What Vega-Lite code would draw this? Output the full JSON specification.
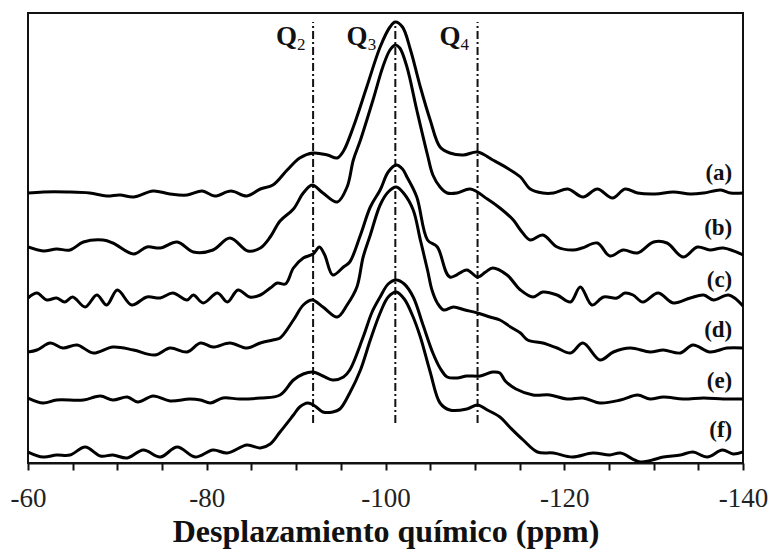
{
  "$schema": "https://vega.github.io/schema/vega-lite/v6.json",
  "width": 715,
  "height": 450,
  "autosize": "none",
  "padding": {"left": 28, "top": 13, "right": 28, "bottom": 89},
  "background": "white",
  "config": {
    "view": {"stroke": "#111", "strokeWidth": 2},
    "font": "Liberation Serif"
  },
  "datasets": {
    "spectra": [
      {"s": "a", "ppm": -60.0, "i": 270}, {"s": "a", "ppm": -61.7, "i": 271}, {"s": "a", "ppm": -64.4, "i": 271}, {"s": "a", "ppm": -66.9, "i": 270},
      {"s": "a", "ppm": -68.8, "i": 267}, {"s": "a", "ppm": -70.3, "i": 268}, {"s": "a", "ppm": -71.8, "i": 266}, {"s": "a", "ppm": -74.0, "i": 272},
      {"s": "a", "ppm": -75.9, "i": 269}, {"s": "a", "ppm": -77.8, "i": 268}, {"s": "a", "ppm": -79.5, "i": 272}, {"s": "a", "ppm": -80.9, "i": 267},
      {"s": "a", "ppm": -82.7, "i": 272}, {"s": "a", "ppm": -84.5, "i": 267}, {"s": "a", "ppm": -86.0, "i": 274}, {"s": "a", "ppm": -87.4, "i": 278},
      {"s": "a", "ppm": -89.0, "i": 293}, {"s": "a", "ppm": -90.4, "i": 305}, {"s": "a", "ppm": -91.9, "i": 310}, {"s": "a", "ppm": -93.5, "i": 308},
      {"s": "a", "ppm": -94.6, "i": 305}, {"s": "a", "ppm": -95.3, "i": 312}, {"s": "a", "ppm": -96.4, "i": 336}, {"s": "a", "ppm": -97.9, "i": 376},
      {"s": "a", "ppm": -99.4, "i": 416}, {"s": "a", "ppm": -100.5, "i": 436}, {"s": "a", "ppm": -101.1, "i": 441}, {"s": "a", "ppm": -101.9, "i": 436},
      {"s": "a", "ppm": -102.8, "i": 413}, {"s": "a", "ppm": -103.9, "i": 376}, {"s": "a", "ppm": -105.0, "i": 343}, {"s": "a", "ppm": -106.1, "i": 316},
      {"s": "a", "ppm": -107.2, "i": 310}, {"s": "a", "ppm": -108.7, "i": 308}, {"s": "a", "ppm": -110.3, "i": 311}, {"s": "a", "ppm": -112.0, "i": 303},
      {"s": "a", "ppm": -113.6, "i": 295}, {"s": "a", "ppm": -115.1, "i": 286}, {"s": "a", "ppm": -116.2, "i": 274}, {"s": "a", "ppm": -117.6, "i": 270},
      {"s": "a", "ppm": -118.8, "i": 270}, {"s": "a", "ppm": -120.4, "i": 274}, {"s": "a", "ppm": -122.1, "i": 266}, {"s": "a", "ppm": -123.7, "i": 274},
      {"s": "a", "ppm": -125.4, "i": 265}, {"s": "a", "ppm": -126.8, "i": 274}, {"s": "a", "ppm": -128.2, "i": 270}, {"s": "a", "ppm": -130.2, "i": 269},
      {"s": "a", "ppm": -132.2, "i": 271}, {"s": "a", "ppm": -134.1, "i": 269}, {"s": "a", "ppm": -135.6, "i": 270}, {"s": "a", "ppm": -137.5, "i": 273},
      {"s": "a", "ppm": -138.6, "i": 270}, {"s": "a", "ppm": -140.0, "i": 270},

      {"s": "b", "ppm": -60.0, "i": 216}, {"s": "b", "ppm": -61.7, "i": 212}, {"s": "b", "ppm": -63.2, "i": 214}, {"s": "b", "ppm": -64.7, "i": 213},
      {"s": "b", "ppm": -66.2, "i": 221}, {"s": "b", "ppm": -68.4, "i": 223}, {"s": "b", "ppm": -69.5, "i": 220}, {"s": "b", "ppm": -71.8, "i": 209},
      {"s": "b", "ppm": -73.3, "i": 216}, {"s": "b", "ppm": -74.8, "i": 215}, {"s": "b", "ppm": -76.7, "i": 221}, {"s": "b", "ppm": -78.5, "i": 211},
      {"s": "b", "ppm": -80.7, "i": 213}, {"s": "b", "ppm": -82.6, "i": 225}, {"s": "b", "ppm": -84.6, "i": 212}, {"s": "b", "ppm": -86.0, "i": 215},
      {"s": "b", "ppm": -87.1, "i": 226}, {"s": "b", "ppm": -88.2, "i": 242}, {"s": "b", "ppm": -89.7, "i": 254}, {"s": "b", "ppm": -90.8, "i": 270},
      {"s": "b", "ppm": -91.8, "i": 278}, {"s": "b", "ppm": -93.0, "i": 270}, {"s": "b", "ppm": -94.6, "i": 261}, {"s": "b", "ppm": -95.7, "i": 276},
      {"s": "b", "ppm": -96.4, "i": 303}, {"s": "b", "ppm": -97.2, "i": 323}, {"s": "b", "ppm": -98.6, "i": 363}, {"s": "b", "ppm": -99.7, "i": 396},
      {"s": "b", "ppm": -100.5, "i": 413}, {"s": "b", "ppm": -101.1, "i": 418}, {"s": "b", "ppm": -101.6, "i": 415}, {"s": "b", "ppm": -102.4, "i": 396},
      {"s": "b", "ppm": -103.5, "i": 353}, {"s": "b", "ppm": -104.7, "i": 308}, {"s": "b", "ppm": -105.3, "i": 288}, {"s": "b", "ppm": -106.1, "i": 276},
      {"s": "b", "ppm": -106.9, "i": 270}, {"s": "b", "ppm": -108.0, "i": 270}, {"s": "b", "ppm": -109.5, "i": 274}, {"s": "b", "ppm": -111.4, "i": 264},
      {"s": "b", "ppm": -112.8, "i": 255}, {"s": "b", "ppm": -114.3, "i": 243}, {"s": "b", "ppm": -115.1, "i": 233}, {"s": "b", "ppm": -116.2, "i": 223},
      {"s": "b", "ppm": -117.6, "i": 228}, {"s": "b", "ppm": -119.2, "i": 216}, {"s": "b", "ppm": -121.0, "i": 213}, {"s": "b", "ppm": -122.0, "i": 215},
      {"s": "b", "ppm": -123.7, "i": 220}, {"s": "b", "ppm": -125.1, "i": 207}, {"s": "b", "ppm": -126.6, "i": 213}, {"s": "b", "ppm": -128.2, "i": 210},
      {"s": "b", "ppm": -130.0, "i": 221}, {"s": "b", "ppm": -131.5, "i": 220}, {"s": "b", "ppm": -133.3, "i": 206}, {"s": "b", "ppm": -134.9, "i": 216},
      {"s": "b", "ppm": -136.3, "i": 213}, {"s": "b", "ppm": -137.8, "i": 215}, {"s": "b", "ppm": -140.0, "i": 208},

      {"s": "c", "ppm": -60.0, "i": 165}, {"s": "c", "ppm": -61.0, "i": 170}, {"s": "c", "ppm": -62.1, "i": 163}, {"s": "c", "ppm": -63.2, "i": 165},
      {"s": "c", "ppm": -64.1, "i": 161}, {"s": "c", "ppm": -65.0, "i": 166}, {"s": "c", "ppm": -66.4, "i": 156}, {"s": "c", "ppm": -67.7, "i": 168},
      {"s": "c", "ppm": -68.8, "i": 158}, {"s": "c", "ppm": -70.0, "i": 173}, {"s": "c", "ppm": -71.6, "i": 158}, {"s": "c", "ppm": -73.3, "i": 166},
      {"s": "c", "ppm": -74.8, "i": 165}, {"s": "c", "ppm": -76.2, "i": 170}, {"s": "c", "ppm": -77.8, "i": 163}, {"s": "c", "ppm": -78.5, "i": 168},
      {"s": "c", "ppm": -79.6, "i": 160}, {"s": "c", "ppm": -81.2, "i": 170}, {"s": "c", "ppm": -82.3, "i": 161}, {"s": "c", "ppm": -83.5, "i": 173},
      {"s": "c", "ppm": -84.8, "i": 166}, {"s": "c", "ppm": -86.0, "i": 168}, {"s": "c", "ppm": -87.1, "i": 175}, {"s": "c", "ppm": -87.9, "i": 180},
      {"s": "c", "ppm": -88.8, "i": 179}, {"s": "c", "ppm": -89.7, "i": 195}, {"s": "c", "ppm": -90.8, "i": 205}, {"s": "c", "ppm": -91.9, "i": 209},
      {"s": "c", "ppm": -92.6, "i": 216}, {"s": "c", "ppm": -93.2, "i": 208}, {"s": "c", "ppm": -94.1, "i": 188}, {"s": "c", "ppm": -95.3, "i": 196},
      {"s": "c", "ppm": -96.0, "i": 201}, {"s": "c", "ppm": -97.2, "i": 228}, {"s": "c", "ppm": -98.3, "i": 256}, {"s": "c", "ppm": -99.4, "i": 273},
      {"s": "c", "ppm": -100.3, "i": 291}, {"s": "c", "ppm": -101.2, "i": 298}, {"s": "c", "ppm": -101.9, "i": 294}, {"s": "c", "ppm": -102.4, "i": 286},
      {"s": "c", "ppm": -103.5, "i": 266}, {"s": "c", "ppm": -104.7, "i": 223}, {"s": "c", "ppm": -105.8, "i": 216}, {"s": "c", "ppm": -107.2, "i": 186},
      {"s": "c", "ppm": -109.1, "i": 193}, {"s": "c", "ppm": -110.3, "i": 186}, {"s": "c", "ppm": -111.2, "i": 191}, {"s": "c", "ppm": -112.0, "i": 195},
      {"s": "c", "ppm": -113.6, "i": 188}, {"s": "c", "ppm": -115.1, "i": 173}, {"s": "c", "ppm": -116.5, "i": 166}, {"s": "c", "ppm": -117.6, "i": 171},
      {"s": "c", "ppm": -119.2, "i": 168}, {"s": "c", "ppm": -120.7, "i": 161}, {"s": "c", "ppm": -121.8, "i": 176}, {"s": "c", "ppm": -123.1, "i": 158},
      {"s": "c", "ppm": -124.4, "i": 166}, {"s": "c", "ppm": -125.9, "i": 165}, {"s": "c", "ppm": -126.8, "i": 170}, {"s": "c", "ppm": -127.7, "i": 168},
      {"s": "c", "ppm": -128.8, "i": 161}, {"s": "c", "ppm": -130.5, "i": 170}, {"s": "c", "ppm": -132.2, "i": 160}, {"s": "c", "ppm": -134.1, "i": 165},
      {"s": "c", "ppm": -135.6, "i": 168}, {"s": "c", "ppm": -136.7, "i": 163}, {"s": "c", "ppm": -138.4, "i": 168}, {"s": "c", "ppm": -140.0, "i": 157},

      {"s": "d", "ppm": -60.0, "i": 111}, {"s": "d", "ppm": -61.0, "i": 113}, {"s": "d", "ppm": -62.5, "i": 120}, {"s": "d", "ppm": -63.9, "i": 115},
      {"s": "d", "ppm": -65.5, "i": 118}, {"s": "d", "ppm": -67.3, "i": 110}, {"s": "d", "ppm": -69.5, "i": 116}, {"s": "d", "ppm": -71.8, "i": 113},
      {"s": "d", "ppm": -74.2, "i": 108}, {"s": "d", "ppm": -75.9, "i": 115}, {"s": "d", "ppm": -77.8, "i": 111}, {"s": "d", "ppm": -79.3, "i": 120},
      {"s": "d", "ppm": -80.7, "i": 116}, {"s": "d", "ppm": -82.6, "i": 120}, {"s": "d", "ppm": -84.5, "i": 115}, {"s": "d", "ppm": -86.0, "i": 120},
      {"s": "d", "ppm": -87.4, "i": 123}, {"s": "d", "ppm": -88.2, "i": 125}, {"s": "d", "ppm": -89.7, "i": 143}, {"s": "d", "ppm": -90.8, "i": 158},
      {"s": "d", "ppm": -91.8, "i": 163}, {"s": "d", "ppm": -93.0, "i": 156}, {"s": "d", "ppm": -94.6, "i": 146}, {"s": "d", "ppm": -95.7, "i": 158},
      {"s": "d", "ppm": -96.8, "i": 176}, {"s": "d", "ppm": -97.5, "i": 206}, {"s": "d", "ppm": -98.3, "i": 228}, {"s": "d", "ppm": -99.4, "i": 258},
      {"s": "d", "ppm": -100.3, "i": 271}, {"s": "d", "ppm": -101.2, "i": 276}, {"s": "d", "ppm": -102.1, "i": 269}, {"s": "d", "ppm": -103.1, "i": 253},
      {"s": "d", "ppm": -103.9, "i": 223}, {"s": "d", "ppm": -104.7, "i": 193}, {"s": "d", "ppm": -105.2, "i": 173}, {"s": "d", "ppm": -105.8, "i": 160},
      {"s": "d", "ppm": -106.5, "i": 153}, {"s": "d", "ppm": -107.6, "i": 156}, {"s": "d", "ppm": -108.9, "i": 153}, {"s": "d", "ppm": -110.3, "i": 150},
      {"s": "d", "ppm": -111.7, "i": 146}, {"s": "d", "ppm": -112.8, "i": 143}, {"s": "d", "ppm": -114.0, "i": 136}, {"s": "d", "ppm": -115.1, "i": 130},
      {"s": "d", "ppm": -115.9, "i": 123}, {"s": "d", "ppm": -117.6, "i": 120}, {"s": "d", "ppm": -119.2, "i": 115}, {"s": "d", "ppm": -120.7, "i": 110},
      {"s": "d", "ppm": -122.1, "i": 120}, {"s": "d", "ppm": -124.0, "i": 103}, {"s": "d", "ppm": -125.5, "i": 111}, {"s": "d", "ppm": -127.4, "i": 115},
      {"s": "d", "ppm": -129.6, "i": 111}, {"s": "d", "ppm": -131.1, "i": 113}, {"s": "d", "ppm": -133.0, "i": 110}, {"s": "d", "ppm": -134.4, "i": 118},
      {"s": "d", "ppm": -136.3, "i": 111}, {"s": "d", "ppm": -138.2, "i": 115}, {"s": "d", "ppm": -140.0, "i": 115},

      {"s": "e", "ppm": -60.0, "i": 65}, {"s": "e", "ppm": -61.7, "i": 60}, {"s": "e", "ppm": -63.2, "i": 63}, {"s": "e", "ppm": -66.2, "i": 63},
      {"s": "e", "ppm": -68.1, "i": 67}, {"s": "e", "ppm": -69.5, "i": 63}, {"s": "e", "ppm": -71.1, "i": 66}, {"s": "e", "ppm": -72.3, "i": 61},
      {"s": "e", "ppm": -74.0, "i": 67}, {"s": "e", "ppm": -75.9, "i": 62}, {"s": "e", "ppm": -78.1, "i": 64}, {"s": "e", "ppm": -79.3, "i": 63},
      {"s": "e", "ppm": -80.4, "i": 60}, {"s": "e", "ppm": -81.8, "i": 65}, {"s": "e", "ppm": -83.7, "i": 64}, {"s": "e", "ppm": -86.0, "i": 65},
      {"s": "e", "ppm": -88.2, "i": 68}, {"s": "e", "ppm": -89.7, "i": 83}, {"s": "e", "ppm": -90.8, "i": 89}, {"s": "e", "ppm": -91.9, "i": 91},
      {"s": "e", "ppm": -93.0, "i": 87}, {"s": "e", "ppm": -94.1, "i": 83}, {"s": "e", "ppm": -95.3, "i": 86}, {"s": "e", "ppm": -96.0, "i": 93},
      {"s": "e", "ppm": -97.5, "i": 126}, {"s": "e", "ppm": -98.5, "i": 151}, {"s": "e", "ppm": -99.4, "i": 166}, {"s": "e", "ppm": -100.3, "i": 179},
      {"s": "e", "ppm": -101.2, "i": 183}, {"s": "e", "ppm": -102.1, "i": 179}, {"s": "e", "ppm": -103.1, "i": 166}, {"s": "e", "ppm": -104.2, "i": 138},
      {"s": "e", "ppm": -105.3, "i": 110}, {"s": "e", "ppm": -106.1, "i": 95}, {"s": "e", "ppm": -106.9, "i": 86}, {"s": "e", "ppm": -108.0, "i": 85},
      {"s": "e", "ppm": -109.1, "i": 87}, {"s": "e", "ppm": -110.6, "i": 87}, {"s": "e", "ppm": -112.0, "i": 91}, {"s": "e", "ppm": -112.8, "i": 90},
      {"s": "e", "ppm": -113.4, "i": 82}, {"s": "e", "ppm": -114.6, "i": 74}, {"s": "e", "ppm": -116.5, "i": 68}, {"s": "e", "ppm": -118.4, "i": 68},
      {"s": "e", "ppm": -120.3, "i": 64}, {"s": "e", "ppm": -122.1, "i": 65}, {"s": "e", "ppm": -124.0, "i": 60}, {"s": "e", "ppm": -126.3, "i": 63},
      {"s": "e", "ppm": -128.2, "i": 68}, {"s": "e", "ppm": -129.6, "i": 64}, {"s": "e", "ppm": -131.1, "i": 66}, {"s": "e", "ppm": -133.3, "i": 64},
      {"s": "e", "ppm": -135.6, "i": 65}, {"s": "e", "ppm": -137.8, "i": 64}, {"s": "e", "ppm": -140.0, "i": 64},

      {"s": "f", "ppm": -60.0, "i": 11}, {"s": "f", "ppm": -61.7, "i": 6}, {"s": "f", "ppm": -63.2, "i": 8}, {"s": "f", "ppm": -64.7, "i": 8},
      {"s": "f", "ppm": -66.4, "i": 16}, {"s": "f", "ppm": -68.1, "i": 7}, {"s": "f", "ppm": -69.5, "i": 8}, {"s": "f", "ppm": -71.1, "i": 5},
      {"s": "f", "ppm": -72.9, "i": 13}, {"s": "f", "ppm": -74.8, "i": 6}, {"s": "f", "ppm": -76.7, "i": 16}, {"s": "f", "ppm": -78.7, "i": 6},
      {"s": "f", "ppm": -80.7, "i": 13}, {"s": "f", "ppm": -82.3, "i": 10}, {"s": "f", "ppm": -84.5, "i": 18}, {"s": "f", "ppm": -86.0, "i": 15},
      {"s": "f", "ppm": -87.1, "i": 19}, {"s": "f", "ppm": -88.2, "i": 31}, {"s": "f", "ppm": -89.7, "i": 48}, {"s": "f", "ppm": -90.4, "i": 56},
      {"s": "f", "ppm": -91.3, "i": 60}, {"s": "f", "ppm": -92.1, "i": 57}, {"s": "f", "ppm": -93.0, "i": 51}, {"s": "f", "ppm": -94.1, "i": 51},
      {"s": "f", "ppm": -94.9, "i": 54}, {"s": "f", "ppm": -96.0, "i": 70}, {"s": "f", "ppm": -97.2, "i": 93}, {"s": "f", "ppm": -98.3, "i": 123},
      {"s": "f", "ppm": -99.4, "i": 150}, {"s": "f", "ppm": -100.3, "i": 166}, {"s": "f", "ppm": -101.2, "i": 171}, {"s": "f", "ppm": -102.1, "i": 164},
      {"s": "f", "ppm": -103.0, "i": 148}, {"s": "f", "ppm": -103.9, "i": 126}, {"s": "f", "ppm": -105.0, "i": 91}, {"s": "f", "ppm": -106.1, "i": 60},
      {"s": "f", "ppm": -107.2, "i": 53}, {"s": "f", "ppm": -109.1, "i": 54}, {"s": "f", "ppm": -110.3, "i": 58}, {"s": "f", "ppm": -111.4, "i": 53},
      {"s": "f", "ppm": -112.8, "i": 46}, {"s": "f", "ppm": -114.0, "i": 35}, {"s": "f", "ppm": -115.4, "i": 23}, {"s": "f", "ppm": -117.0, "i": 11},
      {"s": "f", "ppm": -118.8, "i": 10}, {"s": "f", "ppm": -120.9, "i": 6}, {"s": "f", "ppm": -123.2, "i": 10}, {"s": "f", "ppm": -125.1, "i": 8},
      {"s": "f", "ppm": -126.3, "i": 10}, {"s": "f", "ppm": -128.5, "i": 1}, {"s": "f", "ppm": -131.1, "i": 6}, {"s": "f", "ppm": -133.0, "i": 8},
      {"s": "f", "ppm": -134.4, "i": 11}, {"s": "f", "ppm": -136.0, "i": 6}, {"s": "f", "ppm": -137.7, "i": 13}, {"s": "f", "ppm": -138.9, "i": 9},
      {"s": "f", "ppm": -140.0, "i": 11}
    ],
    "sites": [
      {"ppm": -91.9, "labelPpm": -90.1, "sub": "2"},
      {"ppm": -101.1, "labelPpm": -98.0, "sub": "3"},
      {"ppm": -110.3, "labelPpm": -108.4, "sub": "4"}
    ],
    "samples": [
      {"name": "(a)", "i": 290},
      {"name": "(b)", "i": 235},
      {"name": "(c)", "i": 183},
      {"name": "(d)", "i": 133},
      {"name": "(e)", "i": 82},
      {"name": "(f)", "i": 33}
    ]
  },
  "encoding": {
    "x": {
      "type": "quantitative",
      "scale": {"domain": [-140, -60], "reverse": true, "nice": false, "zero": false},
      "axis": {
        "title": "Desplazamiento químico (ppm)",
        "values": [-60, -65, -70, -75, -80, -85, -90, -95, -100, -105, -110, -115, -120, -125, -130, -135, -140],
        "labelExpr": "datum.value % 20 === 0 ? '' + datum.value : ''",
        "grid": false,
        "domainColor": "#111",
        "domainWidth": 2,
        "tickColor": "#111",
        "tickWidth": 2,
        "tickSize": 7,
        "labelFont": "Liberation Serif",
        "labelFontSize": 27,
        "labelColor": "#222",
        "labelBaseline": "alphabetic",
        "labelPadding": 36,
        "labelOverlap": false,
        "labelBound": false,
        "labelFlush": false,
        "titleFont": "Liberation Serif",
        "titleFontSize": 32,
        "titleFontWeight": "bold",
        "titleColor": "#111",
        "titleBaseline": "alphabetic",
        "titleY": 78
      }
    },
    "y": {
      "type": "quantitative",
      "scale": {"domain": [0, 450], "nice": false, "zero": false},
      "axis": null
    }
  },
  "layer": [
    {
      "data": {"name": "sites"},
      "mark": {"type": "rule", "color": "#111", "strokeWidth": 2, "strokeDash": [8, 3, 2, 3]},
      "encoding": {
        "x": {"field": "ppm", "type": "quantitative"},
        "y": {"datum": 40},
        "y2": {"datum": 441}
      }
    },
    {
      "data": {"name": "spectra"},
      "mark": {"type": "line", "color": "#000", "strokeWidth": 3, "interpolate": "catmull-rom", "clip": true},
      "encoding": {
        "x": {"field": "ppm", "type": "quantitative"},
        "y": {"field": "i", "type": "quantitative"},
        "detail": {"field": "s"}
      }
    },
    {
      "data": {"name": "sites"},
      "mark": {"type": "text", "text": "Q", "font": "Liberation Serif", "fontWeight": "bold", "fontSize": 27, "align": "right", "baseline": "alphabetic", "color": "#111"},
      "encoding": {
        "x": {"field": "labelPpm", "type": "quantitative"},
        "y": {"datum": 418}
      }
    },
    {
      "data": {"name": "sites"},
      "mark": {"type": "text", "font": "Liberation Serif", "fontSize": 17, "align": "left", "baseline": "alphabetic", "color": "#111"},
      "encoding": {
        "x": {"field": "labelPpm", "type": "quantitative"},
        "y": {"datum": 413},
        "text": {"field": "sub"}
      }
    },
    {
      "data": {"name": "samples"},
      "mark": {"type": "text", "font": "Liberation Serif", "fontWeight": "bold", "fontSize": 23, "align": "right", "baseline": "middle", "color": "#111"},
      "encoding": {
        "x": {"datum": -138.8},
        "y": {"field": "i", "type": "quantitative"},
        "text": {"field": "name"}
      }
    }
  ]
}
